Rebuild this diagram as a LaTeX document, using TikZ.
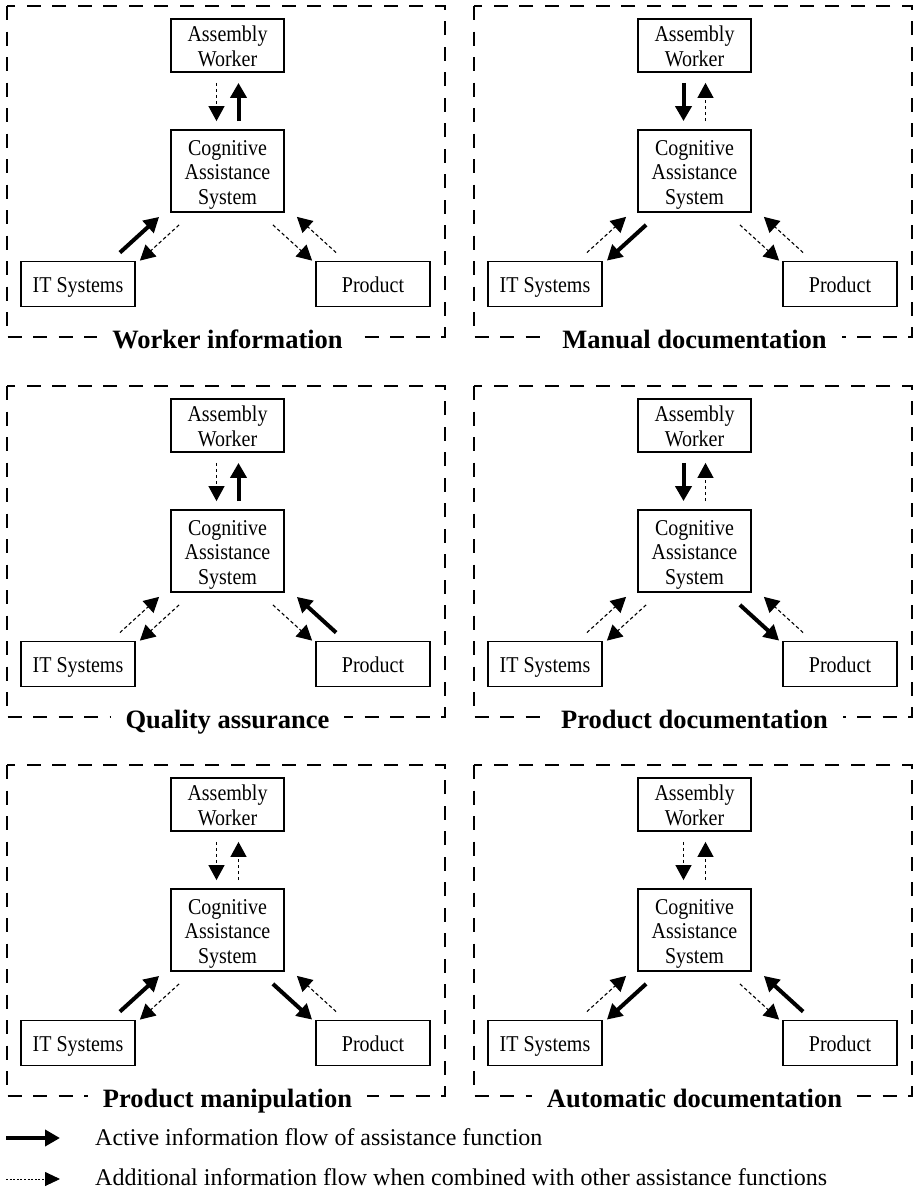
\documentclass[tikz,border=0pt]{standalone}
\usepackage{fontspec}
\setmainfont{Liberation Serif}
\newfontfamily\boxfont[FakeStretch=0.885]{Liberation Serif}
\usetikzlibrary{arrows.meta}
\newcommand\dpz[1]{\raisebox{0pt}[\height][0pt]{#1}}
\newcommand\fst{\rule{0pt}{17pt}}
\tikzset{
  box/.style={draw, line width=1.8pt, minimum width=113pt, inner sep=0pt, align=center,
    font=\boxfont\fontsize{22.6}{24.5}\selectfont},
  act/.style={line width=4pt, -{Triangle[length=15pt,width=16pt]}},
  add/.style={line width=1.1pt, dash pattern=on 3.5pt off 2.5pt, -{Triangle[length=15pt,width=16pt]}},
  legadd/.style={line width=0.9pt, dash pattern=on 2pt off 1.6pt, -{Triangle[length=15pt,width=14pt]}},
  frame/.style={line width=2.5pt, dash pattern=on 14pt off 11.5pt},
  paneltitle/.style={fill=white, inner xsep=15pt, inner ysep=3pt,
    font=\bfseries\fontsize{26.5}{30}\selectfont, anchor=base},
  legtext/.style={anchor=base west, inner sep=0pt, font=\fontsize{24}{28}\selectfont},
}
% #1 prefix, #2 title, #3 AW->CAS, #4 CAS->AW, #5 IT->CAS, #6 CAS->IT, #7 CAS->PR, #8 PR->CAS
\newcommand\panel[8]{%
  \draw[frame] (7,6) rectangle (445,337);
  \node[paneltitle] (#1t) at (227.5,348) {#2};
  \node[box, minimum height=53pt] (#1aw) at (227.5,45.5) {\fst Assembly\\\dpz{Worker}};
  \node[box, minimum height=82pt] (#1cas) at (227.5,171) {\fst Cognitive\\Assistance\\\dpz{System}};
  \node[box, minimum width=114pt, minimum height=45pt] (#1it) at (78,284) {\fst\dpz{IT Systems}};
  \node[box, minimum width=114pt, minimum height=45pt] (#1pr) at (373,284) {\fst\dpz{Product}};
  \draw[#3, shorten <=10pt, shorten >=8pt] ([xshift=-11pt]#1aw.south) -- ([xshift=-11pt]#1cas.north);
  \draw[#4, shorten <=8pt, shorten >=10pt] ([xshift=11pt]#1cas.north) -- ([xshift=11pt]#1aw.south);
  \draw[#5] ([shift={(-16,-8)}]#1it.north east) -- ([shift={(-11,4)}]#1cas.south west);
  \draw[#6] ([shift={(9,12)}]#1cas.south west) -- ([shift={(4,0)}]#1it.north east);
  \draw[#7] ([shift={(-12,12)}]#1cas.south east) -- ([shift={(-3,0)}]#1pr.north west);
  \draw[#8] ([shift={(21,-8)}]#1pr.north west) -- ([shift={(12,4)}]#1cas.south east);
}
\begin{document}
\begin{tikzpicture}[x=1pt,y=-1pt]
\useasboundingbox (0,0) rectangle (914,1191);
\begin{scope}[shift={(0,0)}]
  \panel{pa}{Worker information}{add}{act}{act}{add}{add}{add}
\end{scope}
\begin{scope}[shift={(467,0)}]
  \panel{pb}{Manual documentation}{act}{add}{add}{act}{add}{add}
\end{scope}
\begin{scope}[shift={(0,380)}]
  \panel{pc}{Quality assurance}{add}{act}{add}{add}{add}{act}
\end{scope}
\begin{scope}[shift={(467,380)}]
  \panel{pd}{Product documentation}{act}{add}{add}{add}{act}{add}
\end{scope}
\begin{scope}[shift={(0,759)}]
  \panel{pe}{Product manipulation}{add}{add}{act}{add}{act}{add}
\end{scope}
\begin{scope}[shift={(467,759)}]
  \panel{pf}{Automatic documentation}{add}{add}{add}{act}{add}{act}
\end{scope}
% legend
\coordinate (la1) at (6,1138);
\coordinate (la2) at (60,1138);
\draw[act] (la1) -- (la2);
\node[legtext] (lt1) at (95,1145) {Active information flow of assistance function};
\coordinate (lb1) at (6,1179);
\coordinate (lb2) at (60,1179);
\draw[legadd] (lb1) -- (lb2);
\node[legtext] (lt2) at (95,1185) {Additional information flow when combined with other assistance functions};
\end{tikzpicture}
\end{document}
